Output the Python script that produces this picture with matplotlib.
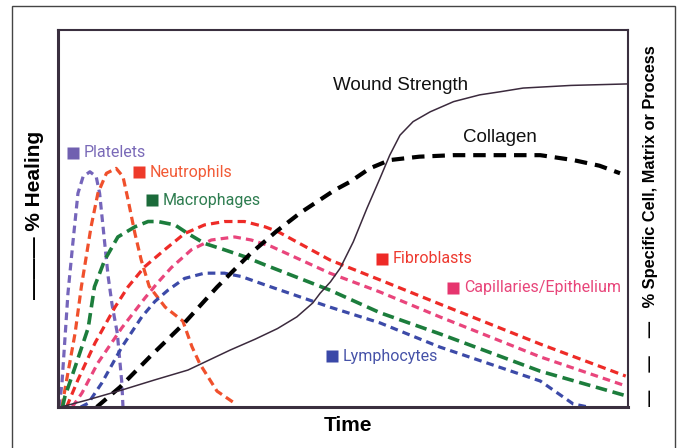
import matplotlib
matplotlib.use('Agg')
import matplotlib.pyplot as plt
from matplotlib.patches import Rectangle

# curve values (time 0-100, level 0-100)
platelets_x = [0.2, 0.7, 1.75, 2.6, 3.5, 4.4, 5.6, 6.7, 7.3, 8.2, 8.8, 9.5, 10.4, 11.2, 11.4]
platelets_y = [0, 6.4, 30.2, 43.4, 56.7, 61.1, 62.4, 61.1, 56.7, 43.4, 34.6, 27, 19.6, 6.4, 0]

neutro_x = [0.7, 1.2, 3.0, 4.1, 5.8, 7.0, 8.5, 10.2, 11.4, 12.3, 13.5, 14.6, 16, 18.8, 21.9, 23.5, 24.9, 27.9, 30.7]
neutro_y = [0, 4.5, 19.6, 31.9, 47.8, 56.7, 62, 63.3, 61.1, 54.9, 46, 39, 32, 26.5, 22.8, 16, 11.4, 4.2, 1.3]

macro_x = [0.8, 1.2, 3.0, 5.3, 6.4, 8.2, 10.5, 13.5, 15.8, 17.5, 20.5, 22.8, 25.7, 29.2, 32.7, 36.3, 47.7, 56.5, 67, 84.6, 99.6]
macro_y = [0, 2.7, 10.6, 21, 31.9, 39, 45.1, 47.8, 49.2, 49.2, 48.3, 46, 43.4, 41.7, 39.9, 37.7, 31, 25, 19.4, 9.5, 3.0]

fibro_x = [1.5, 3.5, 6.5, 10, 12.3, 15.2, 18.7, 22.2, 25.7, 29.2, 32.7, 36.3, 38.6, 47.7, 56.5, 67, 84.6, 99.6]
fibro_y = [0, 7.2, 17, 26.5, 31.9, 37.2, 41.7, 46, 48.3, 49.2, 49.2, 47.8, 46.5, 39, 33.7, 27.3, 16.7, 8.2]

capil_x = [2.5, 4.2, 7, 11.2, 15.3, 17.5, 19.9, 23.4, 26.9, 31, 33.9, 37.4, 47.7, 56.5, 67, 84.6, 99.6]
capil_y = [0, 3.7, 11.7, 21, 29, 33, 37, 41.7, 44.3, 45.1, 44.3, 42.6, 35.5, 30.5, 23.9, 13.3, 5.6]

lympho_x = [4, 5.3, 7.7, 11.2, 14.7, 17, 19.3, 22.2, 25.7, 29.2, 32.2, 36.3, 39, 47.7, 56.5, 67, 84.6, 90.4, 93]
lympho_y = [0, 1, 6.4, 15.9, 23.9, 28, 31, 34.1, 35.5, 35.5, 34.6, 32.4, 31, 26.5, 22.3, 15.9, 6.9, 0.8, 0]

collagen_x = [6.8, 10.9, 16.1, 22, 27.9, 33.7, 38.4, 42.5, 46, 48.5, 51.2, 54.7, 58.2, 63.4, 69.4, 77.5, 84.6, 90.4, 95, 98.6]
collagen_y = [0, 5.3, 13.3, 22, 31.8, 40.6, 46.7, 51.5, 55, 57.5, 59.7, 63.3, 65.5, 66.4, 66.8, 66.8, 66.8, 65.5, 64, 62]

wound_x = [0.5, 5, 11.2, 17, 22.8, 30.2, 34.6, 38.5, 41.9, 44.7, 46, 47.8, 49.5, 51.8, 54.2, 56.5, 58.2, 60,
           62.3, 65.3, 69.4, 74, 77.5, 81.6, 90, 100]
wound_y = [0, 1.8, 4.5, 7.2, 9.8, 15.1, 18, 20.8, 23.9, 27.6, 30.2, 33.2, 36.8, 43.8, 52.7, 60.7, 66.8, 72.1,
           75.7, 78.3, 81, 82.8, 83.6, 84.6, 85.3, 85.7]

names = ['Platelets', 'Neutrophils', 'Macrophages', 'Fibroblasts', 'Capillaries/Epithelium', 'Lymphocytes']
label_x = [2.6, 14.2, 16.5, 56.8, 69.3, 48.1]
label_y = [67.4, 62.3, 54.9, 39.3, 31.6, 13.5]

fig = plt.figure(figsize=(6.81, 4.48), dpi=100)
ax = fig.add_axes([58/681, 1-407/448, 570/681, 377/448])

# outer frame
fig.patches.append(Rectangle((12/681, -0.1), 663/681, 1.1-6/448, transform=fig.transFigure,
                             fill=False, edgecolor='#444444', lw=1.0))

lw = 2.3
ax.plot(platelets_x, platelets_y, color='#7565bb', lw=lw, dashes=(2.4, 1.5))
ax.plot(neutro_x, neutro_y, color='#f0502c', lw=lw, dashes=(2.6, 1.5))
ax.plot(macro_x, macro_y, color='#1c7d3c', lw=2.6, dashes=(3.2, 1.6))
ax.plot(fibro_x, fibro_y, color='#ee2b27', lw=lw, dashes=(2.6, 1.6))
ax.plot(capil_x, capil_y, color='#e9457c', lw=lw, dashes=(2.4, 1.6))
ax.plot(lympho_x, lympho_y, color='#3c4aa8', lw=lw, dashes=(2.4, 1.6))
ax.plot(collagen_x, collagen_y, color='black', lw=3.0, dashes=(3.0, 1.9))
ax.plot(wound_x, wound_y, color='#3b2a3d', lw=1.1)

sq_colors = ['#7060b0', '#ee3a2a', '#1b6b3a', '#ee2a27', '#e6356e', '#3a48a8']
txt_colors = ['#7a6ab8', '#f25a36', '#2e7d50', '#ee3a30', '#e8457a', '#4652a8']
for i in range(len(names)):
    ax.plot(label_x[i], label_y[i], marker='s', ms=8, color=sq_colors[i], mec='none')
    ax.text(label_x[i] + 1.9, label_y[i], names[i], color=txt_colors[i], fontsize=11.5,
            family='Roboto', va='center', ha='left')

ax.text(48.2, 85.4, 'Wound Strength', fontsize=13.5, family='Liberation Sans', va='center', color='#111111')
ax.text(71, 71.6, 'Collagen', fontsize=13.5, family='Liberation Sans', va='center', color='#111111')

ax.set_xlim(0, 100)
ax.set_ylim(0, 100)
ax.set_xticks([])
ax.set_yticks([])
for s in ['left', 'bottom']:
    ax.spines[s].set_linewidth(2.2)
    ax.spines[s].set_color('#3a2f3f')
for s in ['top', 'right']:
    ax.spines[s].set_linewidth(1.5)
    ax.spines[s].set_color('#3a2f3f')

fig.text(348.5/681, 1-425/448, 'Time', fontsize=15, fontweight='bold', family='Liberation Sans',
         ha='center', va='center')
fig.text(35/681, 1-215/448, '\u2014\u2014\u2014 % Healing', fontsize=15, fontweight='bold',
         family='Liberation Sans', rotation=90, ha='center', va='center')
fig.text(651/681, 1-226/448, '\u2014    \u2014    \u2014   % Specific Cell, Matrix or Process', fontsize=11.8,
         fontweight='bold', family='Liberation Sans', rotation=90, ha='center', va='center')

fig.savefig('out.png', dpi=100)
